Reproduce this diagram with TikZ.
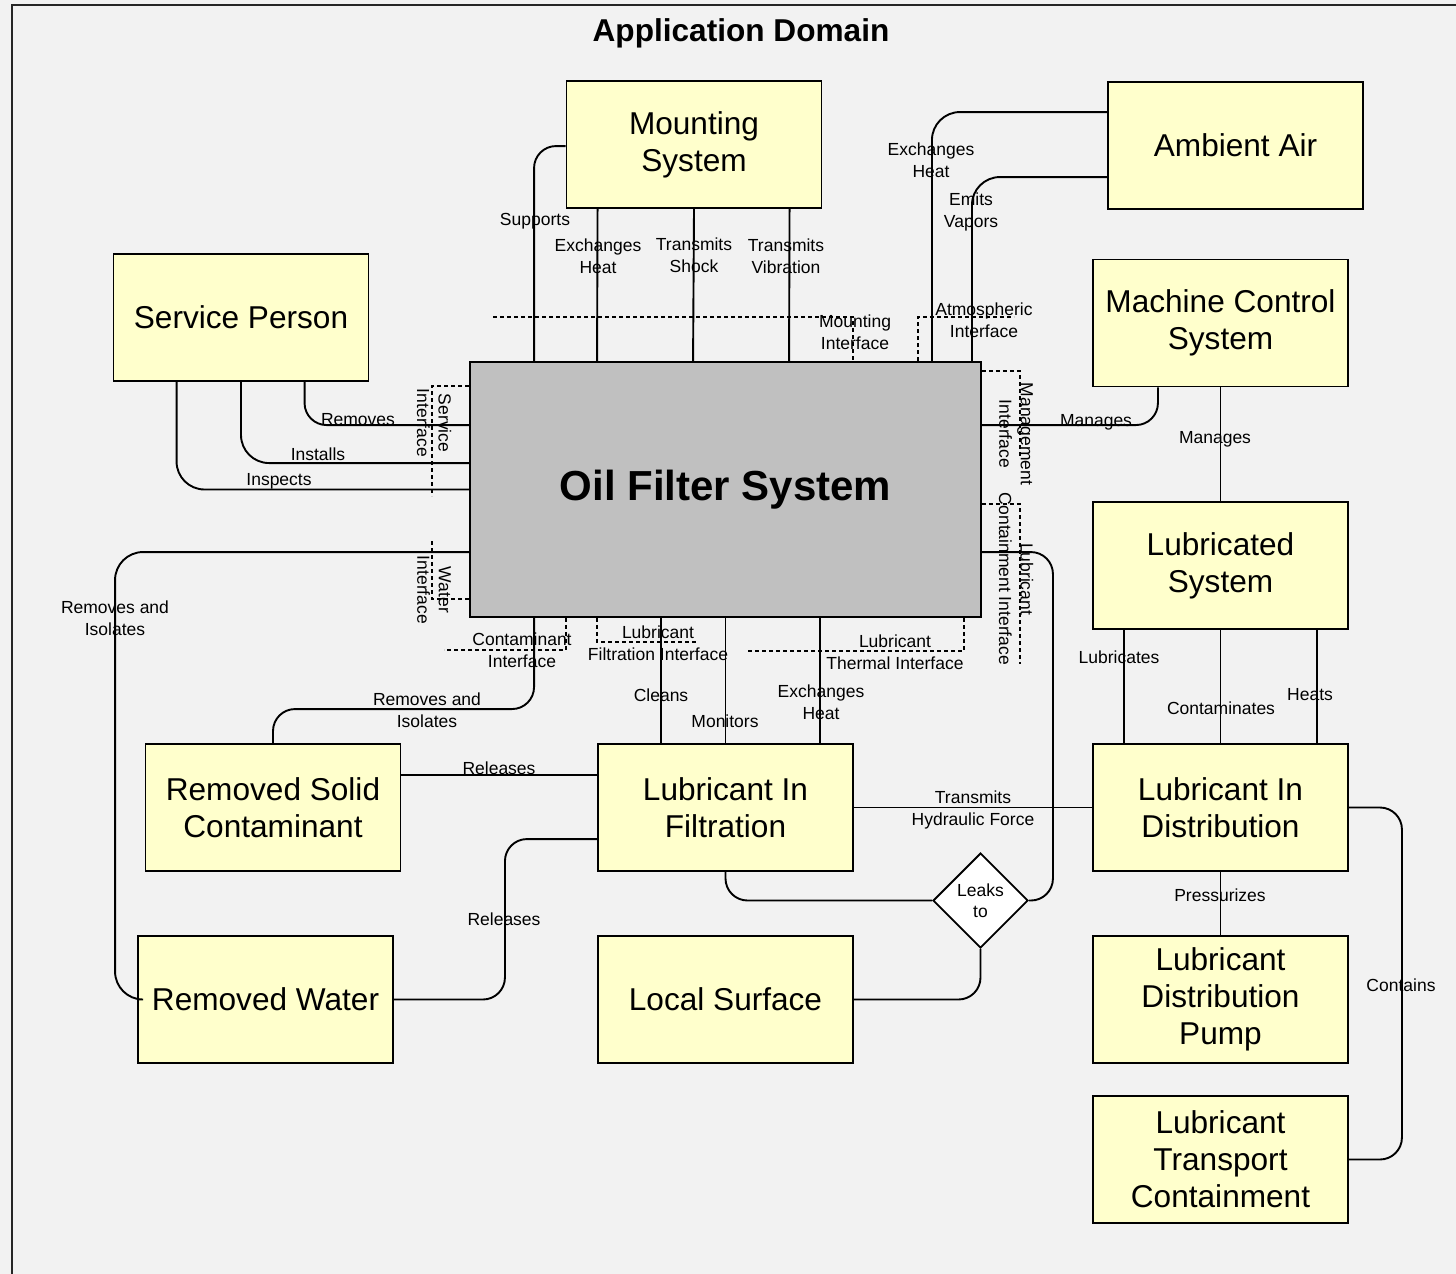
\documentclass[tikz,border=0pt]{standalone}
\usepackage{fontspec}
\setmainfont{Liberation Sans}
\usetikzlibrary{calc,shapes.geometric}
\definecolor{bgc}{HTML}{F2F2F2}
\definecolor{boxc}{HTML}{FFFFCC}
\definecolor{sysc}{HTML}{C0C0C0}
\begin{document}
\begin{tikzpicture}[x=1pt,y=-1pt,
  ent/.style={draw, line width=1.9pt, fill=boxc, minimum width=255pt, minimum height=127pt, inner sep=0pt, align=center, font=\fontsize{31.6}{37}\selectfont},
  rlbl/.style={inner sep=0pt, align=center, font=\fontsize{17.5}{21.5}\selectfont},
  lbl/.style={rlbl, yshift=-2pt},
  rel/.style={draw, line width=1.9pt, rounded corners=22pt},
  relw/.style={rel, rounded corners=28pt},
  intf/.style={draw, line width=1.4pt, dash pattern=on 4pt off 3pt},
]
\useasboundingbox (0,0) rectangle (1456,1274);
\fill[bgc] (0,0) rectangle (1456,1274);
\draw[line width=2pt, black!85] (11.5,5) rectangle (1500,1320);

\node[font=\fontsize{31.6}{37}\selectfont\bfseries, inner sep=0pt] (title) at (741,33) {Application Domain};

% entities
\node[ent] (mount) at (694,144.5) {Mounting\\System};
\node[ent] (air) at (1235.5,145.5) {Ambient Air};
\node[ent] (svc) at (241,317.5) {Service Person};
\node[ent] (mcs) at (1220.5,323) {Machine Control\\System};
\node[ent, fill=sysc, minimum width=511pt, minimum height=255pt, font=\fontsize{42}{48}\selectfont\bfseries] (ofs) at (725.5,489.5) {Oil Filter System};
\node[ent] (lubsys) at (1220.5,565.5) {Lubricated\\System};
\node[ent] (rsc) at (273,807.5) {Removed Solid\\Contaminant};
\node[ent] (lif) at (725.5,807.5) {Lubricant In\\Filtration};
\node[ent] (lid) at (1220.5,807.5) {Lubricant In\\Distribution};
\node[ent] (rw) at (265.5,999.5) {Removed Water};
\node[ent] (ls) at (725.5,999.5) {Local Surface};
\node[ent] (ldp) at (1220.5,999.5) {Lubricant\\Distribution\\Pump};
\node[ent] (ltc) at (1220.5,1159.5) {Lubricant\\Transport\\Containment};
\node[draw, line width=1.9pt, fill=white, diamond, aspect=1, minimum width=95pt, minimum height=95pt, inner sep=0pt, align=center, font=\fontsize{17.5}{21.5}\selectfont] (leak) at (980.5,900.5) {Leaks\\to};

% mounting relations
\draw[rel] ($(mount.north west)+(0,66)$) -| ($(ofs.north west)+(65,0)$);
\draw[rel] ($(mount.south west)+(32,0)$) -- ($(ofs.north west)+(128,0)$);
\draw[rel] (mount.south) -- ($(ofs.north west)+(224,0)$);
\draw[rel] ($(mount.south west)+(224,0)$) -- ($(ofs.north west)+(320,0)$);
\draw[intf] ($(ofs.north west)+(24,-44)$) -| ($(ofs.north west)+(384,0)$);

% ambient air relations
\draw[relw] ($(air.north west)+(0,31)$) -| ($(ofs.north east)+(-50,0)$);
\draw[relw] ($(air.north west)+(0,96)$) -| ($(ofs.north east)+(-10,0)$);
\draw[intf] ($(ofs.north east)+(-64,0)$) |- ($(ofs.north east)+(32,-44)$);

% service person relations
\draw[rel] ($(svc.south west)+(192,0)$) |- ($(ofs.north west)+(0,64)$);
\draw[relw] (svc.south) |- ($(ofs.north west)+(0,102)$);
\draw[relw] ($(svc.south west)+(64,0)$) |- (ofs.west);
\draw[intf] ($(ofs.north west)+(0,25)$) -| ($(ofs.north west)+(-37,135)$);

% machine control relations
\draw[rel] ($(mcs.south east)+(-191,0)$) |- ($(ofs.north east)+(0,64)$);
\draw[rel] (mcs.south) -- (lubsys.north);
\draw[intf] ($(ofs.north east)+(0,10)$) -| ($(ofs.north east)+(38,96)$);

% containment / leaks
\draw[rel] ($(ofs.north east)+(0,191)$) -| ($(leak.east)+(24,0)$) -- (leak.east);
\draw[intf] ($(ofs.north east)+(0,143)$) -| ($(ofs.north east)+(38,303)$);
\draw[rel] (lif.south) |- (leak.west);
\draw[rel] (leak.south) |- (ls.east);

% water
\draw[relw] ($(ofs.north west)+(0,191)$) -| ($(rw.west)+(-22,0)$) -- (rw.west);
\draw[intf] ($(ofs.south west)+(0,-19)$) -| ($(ofs.south west)+(-37,-77)$);

% contaminant
\draw[rel] ($(ofs.south west)+(65,0)$) |- ($(rsc.north)+(0,-34)$) -- (rsc.north);
\draw[intf] ($(ofs.south west)+(97,0)$) |- ($(ofs.south west)+(-25,32)$);
\draw[intf] ($(ofs.south west)+(128,0)$) |- ($(ofs.south west)+(228,24)$);
\draw[intf] ($(ofs.south east)+(-18,0)$) |- ($(ofs.south east)+(-234,33)$);

% filtration
\draw[rel] ($(ofs.south west)+(192,0)$) -- ($(lif.north west)+(64,0)$);
\draw[rel] (ofs.south) -- (lif.north);
\draw[rel] ($(ofs.south west)+(351,0)$) -- ($(lif.north west)+(223,0)$);
\draw[rel] ($(rsc.north east)+(0,32)$) -- ($(lif.north west)+(0,32)$);
\draw[rel] ($(lif.north west)+(0,96)$) -| ($(rw.east)+(111,0)$) -- (rw.east);
\draw[rel] (lif.east) -- (lid.west);

% lubricated system / distribution
\draw[rel] ($(lubsys.south west)+(32,0)$) -- ($(lid.north west)+(32,0)$);
\draw[rel] (lubsys.south) -- (lid.north);
\draw[rel] ($(lubsys.south east)+(-32,0)$) -- ($(lid.north east)+(-32,0)$);
\draw[rel] (lid.south) -- (ldp.north);
\draw[rel] (lid.east) -| ($(ltc.east)+(53,0)$) -- (ltc.east);

% labels
\node[lbl] (l1) at (535,219) {Supports};
\node[lbl] (l2) at (598,254) {Exchanges\\Heat};
\node[lbl] (l3) at (694,253) {Transmits\\Shock};
\node[lbl] (l4) at (786,254) {Transmits\\Vibration};
\node[lbl] (l5) at (855,330) {Mounting\\Interface};
\node[lbl] (l6) at (931,158) {Exchanges\\Heat};
\node[lbl] (l7) at (971,210) {Emits\\Vapors};
\node[lbl] (l8) at (984,318) {Atmospheric\\Interface};
\node[lbl] (l9) at (358,418) {Removes};
\node[lbl] (l10) at (318,452) {Installs};
\node[lbl] (l11) at (279,479) {Inspects};
\node[rlbl, rotate=-90] (l12) at (434,423) {Service\\Interface};
\node[lbl] (l13) at (1096,420) {Manages};
\node[lbl] (l14) at (1215,437) {Manages};
\node[rlbl, rotate=-90] (l15) at (1016,434) {Management\\Interface};
\node[rlbl, rotate=-90] (l16) at (1016,579) {Lubricant\\Containment Interface};
\node[rlbl, rotate=-90] (l17) at (434,590) {Water\\Interface};
\node[lbl] (l18) at (115,616) {Removes and\\Isolates};
\node[lbl] (l19) at (427,708) {Removes and\\Isolates};
\node[lbl] (l20) at (522,648) {Contaminant\\Interface};
\node[lbl] (l21) at (658,641) {Lubricant\\Filtration Interface};
\node[lbl] (l22) at (895,650) {Lubricant\\Thermal Interface};
\node[lbl] (l23) at (661,693) {Cleans};
\node[lbl] (l24) at (725,719) {Monitors};
\node[lbl] (l25) at (821,700) {Exchanges\\Heat};
\node[lbl] (l26) at (499,766) {Releases};
\node[lbl] (l27) at (504,917) {Releases};
\node[lbl] (l28) at (973,808) {Transmits\\Hydraulic Force};
\node[lbl] (l29) at (1119,655) {Lubricates};
\node[lbl] (l30) at (1221,706) {Contaminates};
\node[lbl] (l31) at (1310,693) {Heats};
\node[lbl] (l32) at (1220,893) {Pressurizes};
\node[lbl] (l33) at (1401,983) {Contains};
\end{tikzpicture}
\end{document}
